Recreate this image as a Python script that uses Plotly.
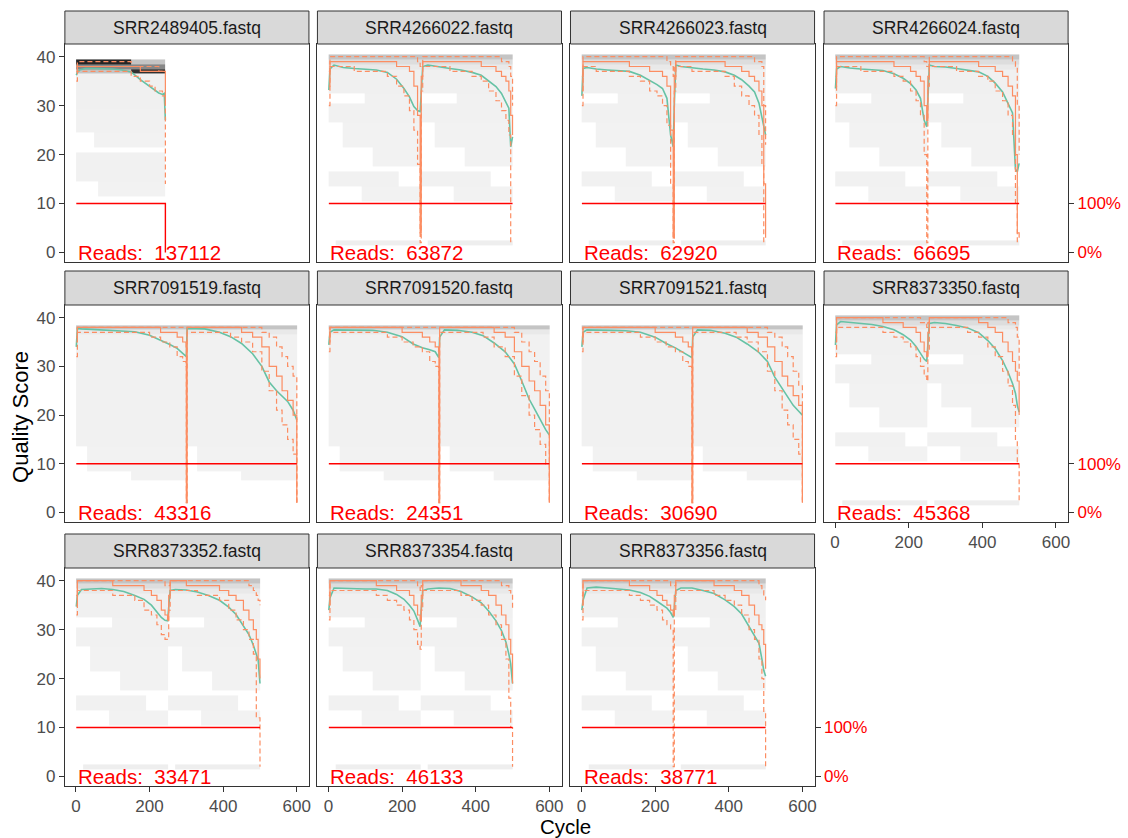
import plotly.graph_objects as go

# ---------------- data ----------------
SAMPLES = ["SRR2489405.fastq", "SRR4266022.fastq", "SRR4266023.fastq", "SRR4266024.fastq",
           "SRR7091519.fastq", "SRR7091520.fastq", "SRR7091521.fastq", "SRR8373350.fastq",
           "SRR8373352.fastq", "SRR8373354.fastq", "SRR8373356.fastq"]
READS = [137112, 63872, 62920, 66695, 43316, 24351, 30690, 45368, 33471, 46133, 38771]
LAST_CYCLE = [243, 500, 500, 500, 600, 600, 600, 500, 500, 500, 500]
RC_LAST_VALUE = [0, 10, 10, 10, 10, 10, 10, 10, 10, 10, 10]   # read-count line (10 = 100%)
SEGMENT_STARTS = [[0], [0, 250], [0, 250], [0, 250], [0, 300], [0, 300], [0, 300],
                  [0, 250], [0, 250], [0, 250], [0, 250]]

# cycle knots
K_P1 = [1, 4, 10, 25, 50, 75, 100, 125, 150, 175, 200, 215, 225, 235, 240, 243]
K250 = [1, 4, 15, 40, 70, 100, 130, 160, 185, 205, 220, 232, 242, 249, 252, 256, 270, 300,
        330, 360, 390, 415, 435, 455, 470, 482, 490, 495, 500]
K300 = [1, 4, 15, 40, 80, 120, 160, 200, 230, 255, 275, 290, 299, 300, 302, 315, 350, 390,
        420, 450, 480, 505, 525, 545, 560, 575, 590, 600]

P1_MEAN = [36.2, 36.8, 37.3, 37.6, 37.6, 37.6, 37.5, 37.3, 36.9, 35.3, 33.9, 33.1, 32.6, 32.3, 32.5, 27.0]
P1_MED = [37, 38, 38, 38, 38, 38, 38, 38, 38, 37, 37, 37, 37, 37, 37, 30]
P1_Q25 = [35, 37, 37, 37, 37, 37, 37, 37, 36, 35, 34, 33, 33, 32, 32, 14]
P1_Q75 = [38, 39, 39, 39, 39, 39, 39, 39, 38, 38, 38, 38, 37, 37, 37, 37]

P2_MEAN = [33.2, 37.5, 38.3, 37.8, 37.6, 37.5, 37.3, 36.8, 35.4, 33.5, 31.8, 29.8, 29.0, 28.8, 33.0,
           38.0, 38.3, 37.9, 37.6, 37.3, 36.8, 36.2, 35.1, 33.9, 32.5, 30.8, 29.5, 21.6, 23.6]
P2_MED = [34, 39, 39, 39, 39, 39, 39, 39, 38, 38, 37, 34, 28, 4, 36, 39, 39, 39, 39, 39, 39, 38, 38, 37, 36, 35, 33, 28, 24]
P2_Q25 = [30, 38, 38, 38, 37, 37, 37, 36, 34, 32, 29, 25, 18, 2, 33, 38, 38, 38, 37, 37, 36, 35, 33, 31, 29, 27, 24, 2, 2]
P2_Q75 = [37, 40, 40, 40, 40, 40, 40, 40, 40, 40, 40, 40, 39, 38, 38, 40, 40, 40, 40, 40, 40, 40, 40, 40, 39, 39, 38, 36, 30]

P3_MEAN = [32.0, 37.6, 37.8, 37.5, 37.3, 37.2, 37.0, 36.2, 35.2, 34.3, 33.5, 31.5, 24.0, 21.6, 30.0,
           38.3, 38.0, 37.7, 37.5, 37.3, 36.9, 36.2, 35.3, 34.0, 32.8, 30.5, 27.4, 25.5, 24.0]
P3_MED = [33, 39, 39, 39, 39, 39, 38, 38, 37, 37, 36, 34, 25, 3, 36, 39, 39, 39, 39, 39, 38, 38, 37, 36, 35, 33, 30, 14, 3]
P3_Q25 = [30, 38, 38, 37, 37, 37, 36, 35, 33, 32, 30, 26, 14, 2, 33, 38, 38, 37, 37, 37, 36, 34, 32, 30, 28, 24, 18, 2, 2]
P3_Q75 = [36, 40, 40, 40, 40, 40, 40, 40, 40, 40, 40, 39, 38, 36, 38, 40, 40, 40, 40, 40, 40, 40, 40, 40, 39, 39, 38, 30, 22]

P4_MEAN = [33.5, 37.5, 38.0, 37.7, 37.5, 37.4, 37.2, 36.5, 35.6, 34.5, 33.2, 31.5, 27.0, 25.7, 30.0,
           38.3, 38.0, 37.9, 37.6, 37.3, 36.9, 36.0, 34.6, 32.8, 30.4, 28.5, 17.0, 16.5, 18.2]
P4_MED = [34, 39, 39, 39, 39, 39, 39, 38, 38, 37, 36, 35, 30, 27, 36, 39, 39, 39, 39, 39, 38, 38, 37, 36, 34, 32, 20, 4, 3]
P4_Q25 = [30, 38, 38, 38, 37, 37, 37, 36, 35, 33, 31, 28, 20, 2, 34, 38, 38, 38, 37, 37, 36, 35, 33, 31, 28, 24, 10, 2, 2]
P4_Q75 = [36, 40, 40, 40, 40, 40, 40, 40, 40, 40, 40, 40, 39, 38, 38, 40, 40, 40, 40, 40, 40, 40, 40, 40, 40, 39, 38, 30, 20]

P5_MEAN = [34.0, 37.8, 37.7, 37.6, 37.5, 37.4, 37.1, 36.4, 35.4, 34.5, 33.7, 32.6, 32.0, 32.0,
           37.8, 37.8, 37.7, 37.0, 36.1, 34.7, 32.6, 30.0, 26.8, 25.0, 24.0, 22.8, 21.0, 19.0]
P5_MED = [35, 38, 38, 38, 38, 38, 38, 38, 37, 37, 36, 35, 34, 2, 38, 38, 38, 38, 38, 37, 36, 34, 30, 28, 25, 23, 20, 2]
P5_Q25 = [32, 37, 37, 37, 37, 37, 37, 36, 35, 34, 32, 31, 30, 2, 37, 37, 37, 37, 36, 35, 33, 29, 25, 21, 18, 15, 12, 2]
P5_Q75 = [36, 38, 38, 38, 38, 38, 38, 38, 38, 38, 38, 38, 38, 38, 38, 38, 38, 38, 38, 38, 38, 37, 36, 34, 32, 30, 28, 2]

P6_MEAN = [34.4, 37.0, 37.5, 37.5, 37.5, 37.4, 37.0, 36.1, 34.6, 33.8, 33.4, 33.0, 31.9, 31.9,
           36.0, 37.5, 37.4, 37.0, 36.3, 34.8, 33.0, 30.5, 27.0, 23.3, 21.2, 19.0, 17.0, 15.9]
P6_MED = [35, 38, 38, 38, 38, 38, 38, 37, 37, 36, 35, 34, 33, 2, 38, 38, 38, 38, 38, 37, 36, 33, 30, 27, 25, 22, 18, 2]
P6_Q25 = [33, 37, 37, 37, 37, 37, 36, 35, 34, 33, 31, 30, 29, 2, 37, 37, 37, 37, 36, 34, 32, 28, 24, 20, 17, 14, 10, 2]
P6_Q75 = [36, 38, 38, 38, 38, 38, 38, 38, 38, 38, 38, 38, 38, 38, 38, 38, 38, 38, 38, 38, 38, 37, 35, 33, 31, 28, 25, 2]

P7_MEAN = [34.0, 37.0, 37.5, 37.5, 37.4, 37.3, 37.0, 36.0, 34.7, 33.8, 32.9, 32.2, 31.8, 31.8,
           36.0, 37.5, 37.4, 36.8, 36.0, 34.6, 33.0, 31.0, 27.8, 25.5, 23.6, 22.0, 20.8, 20.0]
P7_MED = [35, 38, 38, 38, 38, 38, 38, 37, 37, 36, 35, 34, 33, 2, 38, 38, 38, 38, 38, 37, 36, 34, 31, 28, 26, 24, 22, 2]
P7_Q25 = [33, 37, 37, 37, 37, 37, 36, 35, 34, 33, 31, 30, 29, 2, 37, 37, 37, 37, 36, 35, 33, 29, 25, 21, 18, 15, 12, 2]
P7_Q75 = [36, 38, 38, 38, 38, 38, 38, 38, 38, 38, 38, 38, 38, 38, 38, 38, 38, 38, 38, 38, 38, 37, 36, 34, 32, 29, 26, 2]

P8_MEAN = [34.4, 38.5, 39.2, 39.0, 38.8, 38.6, 38.2, 37.5, 36.5, 35.4, 34.1, 32.6, 31.5, 31.0, 34.0,
           38.8, 39.0, 38.8, 38.4, 37.9, 36.9, 35.3, 33.6, 31.2, 28.8, 26.5, 24.5, 22.0, 20.6]
P8_MED = [35, 40, 40, 40, 40, 40, 39, 39, 38, 38, 37, 35, 33, 32, 37, 40, 40, 40, 40, 40, 39, 38, 37, 35, 33, 31, 29, 27, 20]
P8_Q25 = [32, 38, 38, 38, 38, 38, 37, 36, 35, 34, 32, 30, 28, 27, 33, 38, 38, 38, 38, 37, 36, 34, 32, 29, 26, 22, 15, 10, 2]
P8_Q75 = [37, 40, 40, 40, 40, 40, 40, 40, 40, 40, 40, 39, 39, 38, 39, 40, 40, 40, 40, 40, 40, 40, 40, 40, 39, 39, 38, 36, 28]

P9_MEAN = [34.7, 37.0, 38.2, 38.3, 38.4, 38.2, 37.8, 37.0, 36.2, 35.0, 33.5, 32.5, 31.9, 31.8, 34.5,
           38.0, 38.2, 38.1, 37.7, 37.0, 36.0, 34.6, 33.1, 30.9, 29.0, 26.8, 25.0, 23.8, 19.0]
P9_MED = [35, 40, 40, 40, 40, 39, 39, 39, 38, 37, 36, 34, 33, 32, 37, 40, 40, 39, 39, 39, 38, 37, 36, 34, 32, 30, 28, 24, 20]
P9_Q25 = [33, 38, 38, 38, 38, 37, 37, 36, 34, 33, 31, 29, 28, 28, 34, 38, 38, 38, 37, 37, 36, 34, 32, 30, 28, 25, 12, 12, 2]
P9_Q75 = [37, 40, 40, 40, 40, 40, 40, 40, 40, 40, 40, 40, 39, 39, 39, 40, 40, 40, 40, 40, 40, 40, 40, 40, 39, 38, 37, 36, 35]

P10_MEAN = [34.0, 36.5, 38.5, 38.4, 38.3, 38.3, 38.3, 38.0, 37.2, 36.2, 35.0, 33.8, 32.0, 30.6, 34.0,
            38.0, 38.3, 38.5, 38.4, 37.8, 36.7, 35.5, 33.8, 31.8, 29.8, 27.5, 25.0, 23.0, 19.0]
P10_MED = [35, 40, 40, 40, 40, 40, 39, 39, 38, 38, 37, 35, 33, 32, 37, 40, 40, 40, 40, 39, 39, 38, 37, 35, 33, 31, 28, 25, 19]
P10_Q25 = [32, 38, 38, 38, 38, 38, 37, 36, 35, 34, 32, 30, 27, 26, 34, 38, 38, 38, 38, 37, 36, 35, 33, 31, 28, 24, 16, 10, 2]
P10_Q75 = [37, 40, 40, 40, 40, 40, 40, 40, 40, 40, 40, 40, 39, 38, 39, 40, 40, 40, 40, 40, 40, 40, 40, 40, 39, 39, 38, 37, 34]

P11_MEAN = [34.0, 36.0, 38.5, 38.7, 38.5, 38.3, 38.1, 37.6, 36.8, 35.8, 35.0, 34.4, 33.5, 32.5, 34.5,
            38.0, 38.5, 38.5, 38.0, 37.4, 36.1, 34.7, 33.2, 30.6, 28.8, 27.2, 24.0, 21.7, 20.5]
P11_MED = [35, 40, 40, 40, 40, 40, 39, 39, 38, 37, 36, 35, 34, 33, 37, 40, 40, 40, 40, 39, 39, 38, 37, 35, 33, 31, 30, 27, 22]
P11_Q25 = [32, 38, 38, 38, 38, 38, 37, 36, 35, 34, 32, 31, 30, 2, 34, 38, 38, 38, 38, 37, 36, 35, 33, 30, 28, 24, 20, 13, 2]
P11_Q75 = [37, 40, 40, 40, 40, 40, 40, 40, 40, 40, 40, 40, 39, 39, 39, 40, 40, 40, 40, 40, 40, 40, 40, 40, 40, 39, 38, 37, 36]

# background tiles: (cycle_from, cycle_to, q_from, q_to, shade 0..1) relative to read segment
TILES_P1 = [(1, 243, 30, 36, 0.02), (1, 243, 25, 29, 0.015), (50, 243, 22, 24, 0.012),
            (1, 243, 15, 20, 0.015), (60, 243, 12, 14, 0.012),
            (1, 150, 39, 39, 0.85), (150, 243, 39, 39, 0.2), (1, 243, 38, 38, 0.45),
            (1, 150, 37, 37, 0.2), (150, 243, 37, 37, 0.8)]
TILES_250 = [(1, 250, 40, 40, 0.2), (1, 250, 39, 39, 0.1), (1, 250, 38, 38, 0.05),
             (1, 250, 33, 37, 0.02), (100, 250, 31, 32, 0.015), (1, 250, 27, 30, 0.015),
             (40, 250, 22, 26, 0.012), (120, 250, 18, 21, 0.012), (1, 190, 14, 16, 0.015),
             (90, 250, 11, 13, 0.012), (20, 250, 2, 2, 0.03)]
TILES_300 = [(1, 300, 38, 38, 0.2), (1, 300, 37, 37, 0.05), (1, 300, 14, 36, 0.015),
             (30, 300, 9, 13, 0.012), (150, 300, 7, 8, 0.012)]

KNOTS = [K_P1, K250, K250, K250, K300, K300, K300, K250, K250, K250, K250]
MEANS = [P1_MEAN, P2_MEAN, P3_MEAN, P4_MEAN, P5_MEAN, P6_MEAN, P7_MEAN, P8_MEAN, P9_MEAN, P10_MEAN, P11_MEAN]
MEDS = [P1_MED, P2_MED, P3_MED, P4_MED, P5_MED, P6_MED, P7_MED, P8_MED, P9_MED, P10_MED, P11_MED]
Q25S = [P1_Q25, P2_Q25, P3_Q25, P4_Q25, P5_Q25, P6_Q25, P7_Q25, P8_Q25, P9_Q25, P10_Q25, P11_Q25]
Q75S = [P1_Q75, P2_Q75, P3_Q75, P4_Q75, P5_Q75, P6_Q75, P7_Q75, P8_Q75, P9_Q75, P10_Q75, P11_Q75]
TILE_SETS = [TILES_P1, TILES_250, TILES_250, TILES_250, TILES_300, TILES_300, TILES_300,
             TILES_250, TILES_250, TILES_250, TILES_250]

# ---------------- layout geometry ----------------
FIG_W, FIG_H = 1128, 838
COL_LEFT = [65, 318, 571.5, 825.5]
COL_W = 244.5
ROW_PANEL = [(44, 262), (305, 522), (568, 786)]
ROW_STRIP = [(11, 44), (271, 305), (534, 568)]
X_RANGE = [-30, 633]
Y_RANGE = [-1.95, 42.6]
FONT = "Liberation Sans, Arial, sans-serif"
GREEN, ORANGE, RED = "#66C2A5", "#FC8D62", "#FF0000"
BOTTOM = {7, 8, 9, 10}
LEFT = {0, 4, 8}
RIGHT_AX = {3: 12, 7: 13, 10: 14}
TICK_SIZE = 17
STRIP_SIZE = 17.5
READS_SIZE = 20.5
TITLE_SIZE = 20.5


def build_tiles(tiles, starts):
    bands = []
    for s in starts:
        for c0, c1, q0, q1, sh in tiles:
            bands.append((c0 + s, c1 + s, q0, q1, sh))
    xs = sorted(set([b[0] - 0.5 for b in bands] + [b[1] + 0.5 for b in bands]))
    ys = [q - 0.5 for q in range(0, 43)]
    z = [[None] * (len(xs) - 1) for _ in range(42)]
    for c0, c1, q0, q1, sh in bands:
        for qi in range(q0, q1 + 1):
            for j in range(len(xs) - 1):
                mid = 0.5 * (xs[j] + xs[j + 1])
                if c0 - 0.5 <= mid <= c1 + 0.5:
                    cur = z[qi][j]
                    z[qi][j] = sh if cur is None else max(cur, sh)
    return xs, ys, z


fig = go.Figure()
shapes, annotations = [], []
layout_axes = {}

for i in range(11):
    r, c = divmod(i, 4)
    xa = "x" if i == 0 else f"x{i+1}"
    ya = "y" if i == 0 else f"y{i+1}"
    xkey = "xaxis" if i == 0 else f"xaxis{i+1}"
    ykey = "yaxis" if i == 0 else f"yaxis{i+1}"
    left = COL_LEFT[c]
    right = left + COL_W
    top, bot = ROW_PANEL[r]
    s_top, s_bot = ROW_STRIP[r]

    xs, ys, z = build_tiles(TILE_SETS[i], SEGMENT_STARTS[i])
    fig.add_trace(go.Heatmap(x=xs, y=ys, z=z, colorscale=[[0, "#F5F5F5"], [1, "#000000"]],
                             zmin=0, zmax=1, showscale=False, hoverinfo="skip",
                             xaxis=xa, yaxis=ya))
    K = KNOTS[i]
    fig.add_trace(go.Scatter(x=K, y=MEANS[i], mode="lines", line=dict(color=GREEN, width=1.6),
                             xaxis=xa, yaxis=ya, showlegend=False, hoverinfo="skip"))
    fig.add_trace(go.Scatter(x=K, y=Q25S[i], mode="lines",
                             line=dict(color=ORANGE, width=1.2, dash="5px,3px", shape="hv"),
                             xaxis=xa, yaxis=ya, showlegend=False, hoverinfo="skip"))
    fig.add_trace(go.Scatter(x=K, y=MEDS[i], mode="lines",
                             line=dict(color=ORANGE, width=1.2, shape="hv"),
                             xaxis=xa, yaxis=ya, showlegend=False, hoverinfo="skip"))
    fig.add_trace(go.Scatter(x=K, y=Q75S[i], mode="lines",
                             line=dict(color=ORANGE, width=1.2, dash="5px,3px", shape="hv"),
                             xaxis=xa, yaxis=ya, showlegend=False, hoverinfo="skip"))
    rc_x = [1, LAST_CYCLE[i], LAST_CYCLE[i]]
    rc_y = [10, 10, RC_LAST_VALUE[i]]
    fig.add_trace(go.Scatter(x=rc_x, y=rc_y, mode="lines", line=dict(color=RED, width=1.4),
                             xaxis=xa, yaxis=ya, showlegend=False, hoverinfo="skip"))

    annotations.append(dict(x=0, y=0, xref=xa, yref=ya, text=f"Reads: \u00a0{READS[i]}",
                            showarrow=False, xanchor="left", yanchor="middle",
                            font=dict(size=READS_SIZE, color=RED, family=FONT)))
    shapes.append(dict(type="rect", xref="paper", yref="paper",
                       x0=left / FIG_W, x1=right / FIG_W,
                       y0=1 - s_bot / FIG_H, y1=1 - s_top / FIG_H,
                       fillcolor="#D9D9D9", line=dict(color="#333333", width=1)))
    annotations.append(dict(x=(left + right) / 2 / FIG_W, y=1 - (s_top + s_bot) / 2 / FIG_H,
                            xref="paper", yref="paper", text=SAMPLES[i], showarrow=False,
                            xanchor="center", yanchor="middle",
                            font=dict(size=STRIP_SIZE, color="#1A1A1A", family=FONT)))

    is_bottom = i in BOTTOM
    is_left = i in LEFT
    layout_axes[xkey] = dict(domain=[left / FIG_W, right / FIG_W], range=X_RANGE, anchor=ya,
                             showgrid=False, zeroline=False, showline=True, mirror=True,
                             linecolor="#333333", linewidth=1,
                             tickvals=[0, 200, 400, 600], ticks="outside" if is_bottom else "",
                             showticklabels=is_bottom, ticklen=5, tickcolor="#333333",
                             tickfont=dict(size=TICK_SIZE, color="#4D4D4D", family=FONT))
    layout_axes[ykey] = dict(domain=[1 - bot / FIG_H, 1 - top / FIG_H], range=Y_RANGE, anchor=xa,
                             showgrid=False, zeroline=False, showline=True, mirror=True,
                             linecolor="#333333", linewidth=1,
                             tickvals=[0, 10, 20, 30, 40], ticks="outside" if is_left else "",
                             showticklabels=is_left, ticklen=5, tickcolor="#333333",
                             tickfont=dict(size=TICK_SIZE, color="#4D4D4D", family=FONT))
    if i in RIGHT_AX:
        n = RIGHT_AX[i]
        layout_axes[f"yaxis{n}"] = dict(overlaying=ya, side="right", anchor=xa, range=Y_RANGE,
                                        showgrid=False, zeroline=False, showline=False,
                                        tickvals=[0, 10], ticktext=["0%", "100%"],
                                        ticks="outside", ticklen=5, tickcolor="#333333",
                                        tickfont=dict(size=TICK_SIZE, color=RED, family=FONT))
        fig.add_trace(go.Scatter(x=[None], y=[None], xaxis=xa, yaxis=f"y{n}", mode="lines",
                                 showlegend=False, hoverinfo="skip"))

annotations.append(dict(x=20 / FIG_W, y=1 - 417 / FIG_H, xref="paper", yref="paper",
                        text="Quality Score", textangle=-90, showarrow=False,
                        xanchor="center", yanchor="middle",
                        font=dict(size=22, color="#000000", family=FONT)))
annotations.append(dict(x=567 / FIG_W, y=1 - 826 / FIG_H, xref="paper", yref="paper",
                        text="Cycle", showarrow=False, xanchor="center", yanchor="middle",
                        borderpad=0,
                        font=dict(size=TITLE_SIZE, color="#000000", family=FONT)))

fig.update_layout(width=FIG_W, height=FIG_H, autosize=False,
                  margin=dict(l=0, r=0, t=0, b=0),
                  paper_bgcolor="white", plot_bgcolor="white",
                  showlegend=False, shapes=shapes, annotations=annotations,
                  font=dict(family=FONT), **layout_axes)

fig.write_html("out.html")
